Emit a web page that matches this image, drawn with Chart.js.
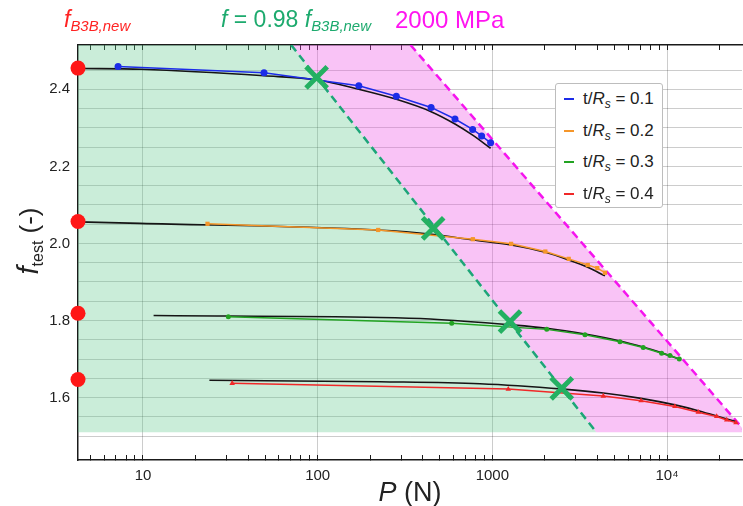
<!DOCTYPE html>
<html><head><meta charset="utf-8">
<script src="https://cdn.jsdelivr.net/npm/chart.js@4.4.0/dist/chart.umd.min.js"></script>
<style>
html,body{margin:0;padding:0;background:#fff;overflow:hidden}
#wrap{position:relative;width:743px;height:506px;font-family:"Liberation Sans",Arial,sans-serif;color:#222}
canvas{position:absolute;left:0;top:0}
.ann{position:absolute;white-space:nowrap;line-height:1}
.ann sub{font-size:0.65em;vertical-align:-0.3em}
#legend{position:absolute;left:555px;top:83px;width:108px;height:125px;border:1px solid #bdbdbd;border-radius:3px;background:#fff;box-sizing:border-box}
#legend .row{position:absolute;left:0;height:20px;line-height:20px;font-size:17px;white-space:nowrap}
#legend .sw{position:absolute;left:8px;top:9px;width:10px;height:2px}
#legend .tx{position:absolute;left:27px;top:0}
#legend sub{font-size:12px;vertical-align:-4px}
#ytitle{position:absolute;left:-32px;top:226px;width:120px;height:30px;line-height:30px;text-align:center;font-size:26px;transform:rotate(-90deg);white-space:nowrap}
#ytitle i{font-size:29px}
#ytitle sub{font-size:16px;vertical-align:-5px}
#xtitle{position:absolute;left:350px;top:476px;width:120px;height:32px;line-height:32px;text-align:center;font-size:27px;white-space:nowrap}
</style></head><body>
<div id="wrap">
<canvas id="c" width="743" height="506"></canvas>
<div class="ann" style="left:64px;top:8px;font-size:23px;color:#ff2222"><i>f</i><sub><i>B3B,new</i></sub></div>
<div class="ann" style="left:221px;top:8px;font-size:23px;color:#1daa6e"><i>f</i> = 0.98 <i>f</i><sub><i>B3B,new</i></sub></div>
<div class="ann" style="left:395px;top:8px;font-size:24px;color:#ff14f0">2000 MPa</div>
<div id="ytitle"><i>f</i><sub>test</sub> (-)</div>
<div id="xtitle"><i>P</i> (N)</div>
<div id="legend"></div>
</div>
<script>
// ---- axis ranges ----
const xMin = 4.246, xMax = 26850;
const yMin = 1.438, yMax = 2.515;
const shadeBottom = 1.51;

// ---- tick labels ----
const xTickLabels = {10: '10', 100: '100', 1000: '1000', 10000: '10\u2074'};
const yTickLabels = [1.6, 1.8, 2.0, 2.2, 2.4];

// ---- legend ----
const seriesNames = ['0.1', '0.2', '0.3', '0.4'];
const seriesColors = ['#1c2ce8', '#f5962a', '#22a322', '#f02828'];

// ---- f_B3B,new (left-axis markers) ----
const fB3Bnew = [2.455, 2.057, 1.819, 1.647];

// ---- t/Rs = 0.1 ----
const s1P = [7.2, 49.3, 172, 282, 446, 611, 771, 868, 977];
const s1F = [2.459, 2.443, 2.409, 2.382, 2.353, 2.323, 2.296, 2.279, 2.261];
const fit1P = [4.246, 9.8, 49.3, 100, 172, 282, 446, 611, 771, 977];
const fit1F = [2.454, 2.452, 2.435, 2.424, 2.400, 2.374, 2.342, 2.310, 2.281, 2.247];

// ---- t/Rs = 0.2 ----
const s2P = [23.4, 222, 773, 1280, 2010, 2735, 3515, 3985, 4410];
const s2F = [2.051, 2.035, 2.011, 1.999, 1.979, 1.960, 1.944, 1.936, 1.924];
const fit2P = [4.246, 9.6, 218, 450, 773, 1280, 2010, 2735, 3515, 4410];
const fit2F = [2.056, 2.052, 2.035, 2.024, 2.009, 1.996, 1.977, 1.957, 1.938, 1.916];

// ---- t/Rs = 0.3 ----
const s3P = [30.8, 585, 2047, 3390, 5375, 7305, 9305, 10390, 11750];
const s3F = [1.810, 1.793, 1.777, 1.763, 1.745, 1.730, 1.715, 1.709, 1.700];
const fit3P = [11.5, 227, 440, 1262, 2047, 3390, 5375, 7305, 9305, 11750];
const fit3F = [1.813, 1.808, 1.804, 1.789, 1.780, 1.765, 1.747, 1.731, 1.716, 1.700];

// ---- t/Rs = 0.4 ----
const s4P = [32.4, 1233, 4315, 7095, 11090, 15090, 19230, 21950, 24790];
const s4F = [1.637, 1.622, 1.604, 1.592, 1.577, 1.562, 1.551, 1.542, 1.535];
const fit4P = [24.0, 227, 849, 2545, 4315, 7095, 11090, 15090, 19230, 24790];
const fit4F = [1.645, 1.641, 1.636, 1.622, 1.612, 1.598, 1.581, 1.566, 1.552, 1.538];

// ---- crossing markers (f = 0.98 f_B3B,new) ----
const crossP = [98.6, 458, 1262, 2495];
const crossF = [2.431, 2.039, 1.797, 1.624];

// ---- construction lines ----
const greenLineP = [70.5, 3936];
const greenLineF = [2.515, 1.51];
const magentaLineP = [340, 28300];
const magentaLineF = [2.515, 1.51];

const pts = (xs, ys) => xs.map((x, i) => ({x, y: ys[i]}));

// region boundaries built from the construction lines
const greenRegion = [{x: xMin, y: yMax}].concat(pts(greenLineP, greenLineF), [{x: 30000, y: shadeBottom}]);
const pinkRegion = [{x: greenLineP[0], y: yMax}].concat(pts(magentaLineP, magentaLineF));

const isDecade = v => Math.abs(Math.log10(v) - Math.round(Math.log10(v))) < 1e-6;
const isNice = v => { const e = Math.floor(Math.log10(v) + 1e-9); const s = v / Math.pow(10, e); return Math.abs(s - Math.round(s)) < 1e-6; };

const base = {type: 'line', pointRadius: 0, pointHoverRadius: 0, fill: false};
const datasets = [
  Object.assign({}, base, {label: 'greenRegion', data: greenRegion, borderWidth: 0, fill: {value: shadeBottom}, backgroundColor: 'rgba(95,200,140,0.33)', order: 20}),
  Object.assign({}, base, {label: 'pinkRegion', data: pinkRegion, borderWidth: 0, fill: 0, backgroundColor: 'rgba(238,80,228,0.34)', order: 19}),
  Object.assign({}, base, {label: 'greenLine', data: pts(greenLineP, greenLineF), borderColor: '#1da578', borderWidth: 2.5, borderDash: [8, 5], order: 15}),
  Object.assign({}, base, {label: 'magentaLine', data: pts(magentaLineP, magentaLineF), borderColor: '#f514ee', borderWidth: 2.5, borderDash: [8, 5], order: 15}),
];
const sP = [s1P, s2P, s3P, s4P], sF = [s1F, s2F, s3F, s4F];
const fP = [fit1P, fit2P, fit3P, fit4P], fF = [fit1F, fit2F, fit3F, fit4F];
const styles = ['circle', 'rect', 'circle', 'triangle'];
const radii = [3.5, 3, 2.5, 3.2];
for (let i = 0; i < 4; i++) {
  datasets.push(Object.assign({}, base, {label: 'fit' + i, data: pts(fP[i], fF[i]), borderColor: '#151515', borderWidth: 1.6, cubicInterpolationMode: 'monotone', order: 10}));
  datasets.push(Object.assign({}, base, {label: 't/Rs = ' + seriesNames[i], data: pts(sP[i], sF[i]), borderColor: seriesColors[i], backgroundColor: seriesColors[i], borderWidth: 1.5, pointRadius: radii[i], pointStyle: styles[i], pointBorderWidth: 0, order: 8}));
}
datasets.push(Object.assign({}, base, {label: 'cross', data: pts(crossP, crossF), showLine: false, pointStyle: 'crossRot', pointRadius: 15, pointBorderWidth: 5, borderColor: 'rgb(36,176,98)', backgroundColor: 'rgb(36,176,98)', order: 2}));
datasets.push(Object.assign({}, base, {label: 'fB3Bnew', data: fB3Bnew.map(y => ({x: xMin, y})), showLine: false, pointRadius: 7.5, pointBorderWidth: 0, backgroundColor: '#ff1717', borderColor: '#ff1717', clip: false, order: 1}));

const tickCol = '#1a1a1a';
const noPad = s => { s.paddingLeft = 0; s.paddingRight = 0; };
new Chart(document.getElementById('c'), {
  type: 'line',
  data: {datasets},
  options: {
    responsive: false, animation: false, events: [],
    layout: {autoPadding: false, padding: {top: 45, right: 1, bottom: 0, left: 0}},
    plugins: {legend: {display: false}, tooltip: {enabled: false}, title: {display: false}},
    scales: {
      x: {
        type: 'logarithmic', position: 'bottom', min: xMin, max: xMax,
        border: {display: true, color: tickCol, width: 1.5},
        grid: {
          color: c => (c.tick && isDecade(c.tick.value)) ? 'rgba(0,0,0,0.2)' : 'rgba(0,0,0,0)',
          tickColor: c => (c.tick && isNice(c.tick.value)) ? tickCol : 'rgba(0,0,0,0)',
          tickLength: -5, lineWidth: 1, tickWidth: 1
        },
        ticks: {
          autoSkip: false, maxRotation: 0, minRotation: 0, padding: 12, color: '#222',
          font: {family: '"Liberation Sans", Arial, sans-serif', size: 15},
          callback: v => { for (const k in xTickLabels) { if (Math.abs(v - Number(k)) < 1e-6 * v) return xTickLabels[k]; } return ''; }
        },
        afterFit: s => { s.height = 46; noPad(s); }
      },
      x2: {
        type: 'logarithmic', position: 'top', min: xMin, max: xMax,
        border: {display: true, color: tickCol, width: 1.5},
        grid: {
          drawOnChartArea: false,
          tickColor: c => (c.tick && isNice(c.tick.value)) ? tickCol : 'rgba(0,0,0,0)',
          tickLength: -5, tickWidth: 1
        },
        ticks: {display: false},
        afterFit: s => { s.height = 0; noPad(s); }
      },
      y: {
        type: 'linear', min: yMin, max: yMax,
        border: {display: true, color: tickCol, width: 1.5},
        grid: {
          color: c => (c.tick && c.tick.value > yMin + 0.01 && c.tick.value < yMax - 0.005) ? 'rgba(0,0,0,0.2)' : 'rgba(0,0,0,0)',
          drawTicks: false, lineWidth: 1
        },
        ticks: {
          stepSize: 0.05, autoSkip: false, padding: 8, color: '#222',
          font: {family: '"Liberation Sans", Arial, sans-serif', size: 15},
          callback: v => { for (const t of yTickLabels) { if (Math.abs(v - t) < 1e-6) return t.toFixed(1); } return ''; }
        },
        afterFit: s => { s.width = 78; s.paddingTop = 0; s.paddingBottom = 0; }
      }
    }
  }
});

// HTML legend built from the series arrays
const lg = document.getElementById('legend');
seriesNames.forEach((n, i) => {
  const row = document.createElement('div');
  row.className = 'row';
  row.style.top = (5 + i * 31.7) + 'px';
  row.style.width = '100%';
  row.innerHTML = '<span class="sw" style="background:' + seriesColors[i] + '"></span><span class="tx">t/<i>R</i><sub><i>s</i></sub> = ' + n + '</span>';
  lg.appendChild(row);
});
</script>
</body></html>
